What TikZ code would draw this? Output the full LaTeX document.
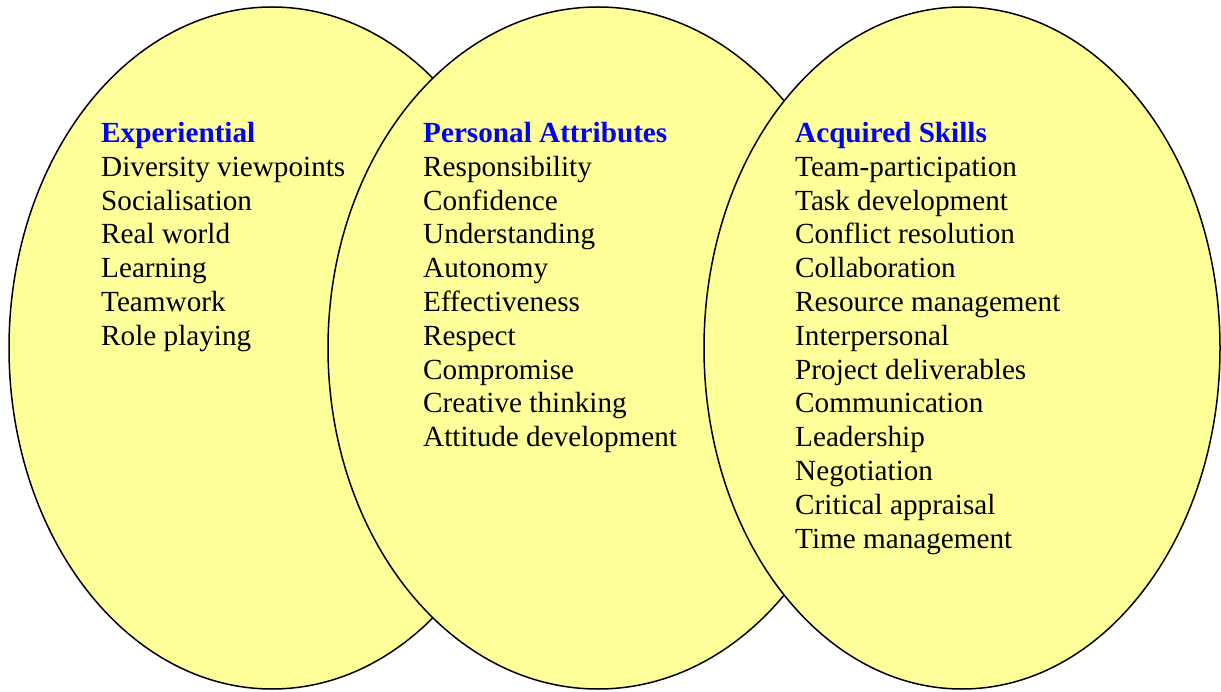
\documentclass[tikz,border=0pt]{standalone}
\usepackage{fontspec}
\setmainfont{Liberation Serif}
\usetikzlibrary{shapes.geometric}
\definecolor{vennyellow}{HTML}{FFFF99}
\definecolor{headblue}{HTML}{0000FF}
\begin{document}
\begin{tikzpicture}[x=1pt,y=-1pt,
  venn/.style={ellipse, draw=black, line width=1.5pt, fill=vennyellow, inner sep=0pt, outer sep=0pt},
  item/.style={anchor=base west, inner sep=0pt, font=\fontsize{29.2}{33.8}\selectfont},
  head/.style={item, font=\fontsize{29.2}{33.8}\selectfont\bfseries, text=headblue}]
\useasboundingbox (0,0) rectangle (1221,692);
\node[venn, minimum width=526pt, minimum height=682pt] (ell1) at (272,348) {};
\node[venn, minimum width=540pt, minimum height=682pt] (ell2) at (598,348) {};
\node[venn, minimum width=516pt, minimum height=682pt] (ell3) at (962,348) {};
\node[head] (h1) at (101,142.5) {Experiential};
\node[head] (h2) at (423,142.5) {Personal Attributes};
\node[head] (h3) at (795,142.5) {Acquired Skills};
\foreach \t [count=\i] in {Diversity viewpoints, Socialisation, Real world, Learning, Teamwork, Role playing}
  \node[item] (a\i) at (101,{142.5+\i*33.8}) {\t};
\foreach \t [count=\i] in {Responsibility, Confidence, Understanding, Autonomy, Effectiveness, Respect, Compromise, Creative thinking, Attitude development}
  \node[item] (b\i) at (423,{142.5+\i*33.8}) {\t};
\foreach \t [count=\i] in {Team-participation, Task development, Conflict resolution, Collaboration, Resource management, Interpersonal, Project deliverables, Communication, Leadership, Negotiation, Critical appraisal, Time management}
  \node[item] (c\i) at (795,{142.5+\i*33.8}) {\t};
\end{tikzpicture}
\end{document}
